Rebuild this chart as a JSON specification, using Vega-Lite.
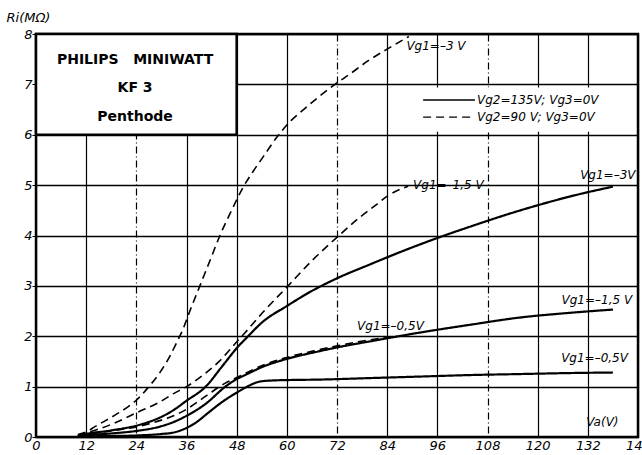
{
  "$schema": "https://vega.github.io/schema/vega-lite/v6.json",
  "width": 602,
  "height": 403,
  "autosize": "none",
  "padding": {"left": 36, "top": 34, "right": 4, "bottom": 18},
  "background": "white",
  "datasets": {
    "curves": [
      {"curve": "135 V / -0.5 V", "vg2": "135 V", "va": 10, "ri": 0.0},
      {"curve": "135 V / -0.5 V", "vg2": "135 V", "va": 12, "ri": 0.01},
      {"curve": "135 V / -0.5 V", "vg2": "135 V", "va": 18, "ri": 0.02},
      {"curve": "135 V / -0.5 V", "vg2": "135 V", "va": 24, "ri": 0.03},
      {"curve": "135 V / -0.5 V", "vg2": "135 V", "va": 30, "ri": 0.06},
      {"curve": "135 V / -0.5 V", "vg2": "135 V", "va": 33, "ri": 0.09},
      {"curve": "135 V / -0.5 V", "vg2": "135 V", "va": 36, "ri": 0.18},
      {"curve": "135 V / -0.5 V", "vg2": "135 V", "va": 38.5, "ri": 0.3},
      {"curve": "135 V / -0.5 V", "vg2": "135 V", "va": 40.6, "ri": 0.44},
      {"curve": "135 V / -0.5 V", "vg2": "135 V", "va": 43, "ri": 0.6},
      {"curve": "135 V / -0.5 V", "vg2": "135 V", "va": 45.3, "ri": 0.74},
      {"curve": "135 V / -0.5 V", "vg2": "135 V", "va": 48, "ri": 0.88},
      {"curve": "135 V / -0.5 V", "vg2": "135 V", "va": 50.5, "ri": 1.0},
      {"curve": "135 V / -0.5 V", "vg2": "135 V", "va": 53.5, "ri": 1.1},
      {"curve": "135 V / -0.5 V", "vg2": "135 V", "va": 56, "ri": 1.12},
      {"curve": "135 V / -0.5 V", "vg2": "135 V", "va": 60, "ri": 1.13},
      {"curve": "135 V / -0.5 V", "vg2": "135 V", "va": 68, "ri": 1.14},
      {"curve": "135 V / -0.5 V", "vg2": "135 V", "va": 80, "ri": 1.17},
      {"curve": "135 V / -0.5 V", "vg2": "135 V", "va": 92, "ri": 1.2},
      {"curve": "135 V / -0.5 V", "vg2": "135 V", "va": 104, "ri": 1.23},
      {"curve": "135 V / -0.5 V", "vg2": "135 V", "va": 116, "ri": 1.25},
      {"curve": "135 V / -0.5 V", "vg2": "135 V", "va": 128, "ri": 1.27},
      {"curve": "135 V / -0.5 V", "vg2": "135 V", "va": 138, "ri": 1.28},

      {"curve": "135 V / -1.5 V", "vg2": "135 V", "va": 10, "ri": 0.0},
      {"curve": "135 V / -1.5 V", "vg2": "135 V", "va": 12, "ri": 0.03},
      {"curve": "135 V / -1.5 V", "vg2": "135 V", "va": 18, "ri": 0.07},
      {"curve": "135 V / -1.5 V", "vg2": "135 V", "va": 24, "ri": 0.12},
      {"curve": "135 V / -1.5 V", "vg2": "135 V", "va": 29.8, "ri": 0.21},
      {"curve": "135 V / -1.5 V", "vg2": "135 V", "va": 33, "ri": 0.3},
      {"curve": "135 V / -1.5 V", "vg2": "135 V", "va": 36, "ri": 0.42},
      {"curve": "135 V / -1.5 V", "vg2": "135 V", "va": 40.6, "ri": 0.66},
      {"curve": "135 V / -1.5 V", "vg2": "135 V", "va": 45.3, "ri": 1.0},
      {"curve": "135 V / -1.5 V", "vg2": "135 V", "va": 48, "ri": 1.15},
      {"curve": "135 V / -1.5 V", "vg2": "135 V", "va": 50, "ri": 1.23},
      {"curve": "135 V / -1.5 V", "vg2": "135 V", "va": 54.4, "ri": 1.4},
      {"curve": "135 V / -1.5 V", "vg2": "135 V", "va": 60, "ri": 1.55},
      {"curve": "135 V / -1.5 V", "vg2": "135 V", "va": 67.6, "ri": 1.7},
      {"curve": "135 V / -1.5 V", "vg2": "135 V", "va": 72.7, "ri": 1.79},
      {"curve": "135 V / -1.5 V", "vg2": "135 V", "va": 80, "ri": 1.9},
      {"curve": "135 V / -1.5 V", "vg2": "135 V", "va": 91.6, "ri": 2.07},
      {"curve": "135 V / -1.5 V", "vg2": "135 V", "va": 104, "ri": 2.23},
      {"curve": "135 V / -1.5 V", "vg2": "135 V", "va": 115.6, "ri": 2.37},
      {"curve": "135 V / -1.5 V", "vg2": "135 V", "va": 127, "ri": 2.46},
      {"curve": "135 V / -1.5 V", "vg2": "135 V", "va": 138, "ri": 2.53},

      {"curve": "135 V / -3 V", "vg2": "135 V", "va": 10, "ri": 0.02},
      {"curve": "135 V / -3 V", "vg2": "135 V", "va": 12, "ri": 0.06},
      {"curve": "135 V / -3 V", "vg2": "135 V", "va": 18, "ri": 0.13},
      {"curve": "135 V / -3 V", "vg2": "135 V", "va": 25.1, "ri": 0.25},
      {"curve": "135 V / -3 V", "vg2": "135 V", "va": 30, "ri": 0.4},
      {"curve": "135 V / -3 V", "vg2": "135 V", "va": 33, "ri": 0.54},
      {"curve": "135 V / -3 V", "vg2": "135 V", "va": 36, "ri": 0.72},
      {"curve": "135 V / -3 V", "vg2": "135 V", "va": 40.6, "ri": 1.0},
      {"curve": "135 V / -3 V", "vg2": "135 V", "va": 44.5, "ri": 1.4},
      {"curve": "135 V / -3 V", "vg2": "135 V", "va": 48.4, "ri": 1.8},
      {"curve": "135 V / -3 V", "vg2": "135 V", "va": 50.5, "ri": 1.98},
      {"curve": "135 V / -3 V", "vg2": "135 V", "va": 54, "ri": 2.27},
      {"curve": "135 V / -3 V", "vg2": "135 V", "va": 60, "ri": 2.6},
      {"curve": "135 V / -3 V", "vg2": "135 V", "va": 66, "ri": 2.9},
      {"curve": "135 V / -3 V", "vg2": "135 V", "va": 72, "ri": 3.15},
      {"curve": "135 V / -3 V", "vg2": "135 V", "va": 80, "ri": 3.43},
      {"curve": "135 V / -3 V", "vg2": "135 V", "va": 88, "ri": 3.7},
      {"curve": "135 V / -3 V", "vg2": "135 V", "va": 96, "ri": 3.95},
      {"curve": "135 V / -3 V", "vg2": "135 V", "va": 104, "ri": 4.18},
      {"curve": "135 V / -3 V", "vg2": "135 V", "va": 112, "ri": 4.4},
      {"curve": "135 V / -3 V", "vg2": "135 V", "va": 120, "ri": 4.6},
      {"curve": "135 V / -3 V", "vg2": "135 V", "va": 128, "ri": 4.78},
      {"curve": "135 V / -3 V", "vg2": "135 V", "va": 138, "ri": 4.97},

      {"curve": "90 V / -0.5 V", "vg2": "90 V", "va": 10, "ri": 0.02},
      {"curve": "90 V / -0.5 V", "vg2": "90 V", "va": 12, "ri": 0.05},
      {"curve": "90 V / -0.5 V", "vg2": "90 V", "va": 18, "ri": 0.12},
      {"curve": "90 V / -0.5 V", "vg2": "90 V", "va": 24, "ri": 0.2},
      {"curve": "90 V / -0.5 V", "vg2": "90 V", "va": 29, "ri": 0.31},
      {"curve": "90 V / -0.5 V", "vg2": "90 V", "va": 32.9, "ri": 0.42},
      {"curve": "90 V / -0.5 V", "vg2": "90 V", "va": 36, "ri": 0.55},
      {"curve": "90 V / -0.5 V", "vg2": "90 V", "va": 40.6, "ri": 0.81},
      {"curve": "90 V / -0.5 V", "vg2": "90 V", "va": 45.3, "ri": 1.07},
      {"curve": "90 V / -0.5 V", "vg2": "90 V", "va": 48, "ri": 1.18},
      {"curve": "90 V / -0.5 V", "vg2": "90 V", "va": 50, "ri": 1.26},
      {"curve": "90 V / -0.5 V", "vg2": "90 V", "va": 54.4, "ri": 1.43},
      {"curve": "90 V / -0.5 V", "vg2": "90 V", "va": 60, "ri": 1.58},
      {"curve": "90 V / -0.5 V", "vg2": "90 V", "va": 67.6, "ri": 1.73},
      {"curve": "90 V / -0.5 V", "vg2": "90 V", "va": 72.7, "ri": 1.82},
      {"curve": "90 V / -0.5 V", "vg2": "90 V", "va": 80, "ri": 1.93},
      {"curve": "90 V / -0.5 V", "vg2": "90 V", "va": 86, "ri": 2.0},

      {"curve": "90 V / -1.5 V", "vg2": "90 V", "va": 10, "ri": 0.03},
      {"curve": "90 V / -1.5 V", "vg2": "90 V", "va": 12, "ri": 0.08},
      {"curve": "90 V / -1.5 V", "vg2": "90 V", "va": 18, "ri": 0.25},
      {"curve": "90 V / -1.5 V", "vg2": "90 V", "va": 24, "ri": 0.48},
      {"curve": "90 V / -1.5 V", "vg2": "90 V", "va": 29.7, "ri": 0.7},
      {"curve": "90 V / -1.5 V", "vg2": "90 V", "va": 32.9, "ri": 0.86},
      {"curve": "90 V / -1.5 V", "vg2": "90 V", "va": 36, "ri": 1.0},
      {"curve": "90 V / -1.5 V", "vg2": "90 V", "va": 40.6, "ri": 1.27},
      {"curve": "90 V / -1.5 V", "vg2": "90 V", "va": 43.8, "ri": 1.5},
      {"curve": "90 V / -1.5 V", "vg2": "90 V", "va": 47.6, "ri": 1.85},
      {"curve": "90 V / -1.5 V", "vg2": "90 V", "va": 50, "ri": 2.07},
      {"curve": "90 V / -1.5 V", "vg2": "90 V", "va": 54, "ri": 2.45},
      {"curve": "90 V / -1.5 V", "vg2": "90 V", "va": 60.3, "ri": 3.0},
      {"curve": "90 V / -1.5 V", "vg2": "90 V", "va": 66, "ri": 3.5},
      {"curve": "90 V / -1.5 V", "vg2": "90 V", "va": 72.2, "ri": 3.98},
      {"curve": "90 V / -1.5 V", "vg2": "90 V", "va": 77, "ri": 4.33},
      {"curve": "90 V / -1.5 V", "vg2": "90 V", "va": 81.2, "ri": 4.6},
      {"curve": "90 V / -1.5 V", "vg2": "90 V", "va": 84.2, "ri": 4.79},
      {"curve": "90 V / -1.5 V", "vg2": "90 V", "va": 89, "ri": 4.98},

      {"curve": "90 V / -3 V", "vg2": "90 V", "va": 10, "ri": 0.05},
      {"curve": "90 V / -3 V", "vg2": "90 V", "va": 12, "ri": 0.1},
      {"curve": "90 V / -3 V", "vg2": "90 V", "va": 14, "ri": 0.2},
      {"curve": "90 V / -3 V", "vg2": "90 V", "va": 18.8, "ri": 0.43},
      {"curve": "90 V / -3 V", "vg2": "90 V", "va": 22, "ri": 0.6},
      {"curve": "90 V / -3 V", "vg2": "90 V", "va": 24, "ri": 0.73},
      {"curve": "90 V / -3 V", "vg2": "90 V", "va": 26.7, "ri": 0.97},
      {"curve": "90 V / -3 V", "vg2": "90 V", "va": 29.8, "ri": 1.3},
      {"curve": "90 V / -3 V", "vg2": "90 V", "va": 32, "ri": 1.6},
      {"curve": "90 V / -3 V", "vg2": "90 V", "va": 33.5, "ri": 1.85},
      {"curve": "90 V / -3 V", "vg2": "90 V", "va": 35.2, "ri": 2.15},
      {"curve": "90 V / -3 V", "vg2": "90 V", "va": 36.8, "ri": 2.5},
      {"curve": "90 V / -3 V", "vg2": "90 V", "va": 39.2, "ri": 3.0},
      {"curve": "90 V / -3 V", "vg2": "90 V", "va": 41.6, "ri": 3.5},
      {"curve": "90 V / -3 V", "vg2": "90 V", "va": 44, "ri": 4.0},
      {"curve": "90 V / -3 V", "vg2": "90 V", "va": 46.8, "ri": 4.5},
      {"curve": "90 V / -3 V", "vg2": "90 V", "va": 49.5, "ri": 4.95},
      {"curve": "90 V / -3 V", "vg2": "90 V", "va": 52, "ri": 5.28},
      {"curve": "90 V / -3 V", "vg2": "90 V", "va": 54.5, "ri": 5.58},
      {"curve": "90 V / -3 V", "vg2": "90 V", "va": 57.6, "ri": 5.95},
      {"curve": "90 V / -3 V", "vg2": "90 V", "va": 61, "ri": 6.28},
      {"curve": "90 V / -3 V", "vg2": "90 V", "va": 64, "ri": 6.5},
      {"curve": "90 V / -3 V", "vg2": "90 V", "va": 67.6, "ri": 6.75},
      {"curve": "90 V / -3 V", "vg2": "90 V", "va": 71.5, "ri": 7.0},
      {"curve": "90 V / -3 V", "vg2": "90 V", "va": 75, "ri": 7.2},
      {"curve": "90 V / -3 V", "vg2": "90 V", "va": 79.5, "ri": 7.47},
      {"curve": "90 V / -3 V", "vg2": "90 V", "va": 84, "ri": 7.7},
      {"curve": "90 V / -3 V", "vg2": "90 V", "va": 89.2, "ri": 7.95}
    ]
  },
  "encoding": {
    "x": {
      "type": "quantitative",
      "scale": {"domain": [0, 144], "nice": false, "zero": false}
    },
    "y": {
      "type": "quantitative",
      "scale": {"domain": [0, 8], "nice": false}
    }
  },
  "layer": [
    {
      "data": {"values": [{"x": 0, "x2": 48, "y": 6, "y2": 8}]},
      "mark": {"type": "rect", "fill": "white", "stroke": "black", "strokeWidth": 2.5},
      "encoding": {
        "x": {"field": "x", "type": "quantitative",
          "axis": {
            "title": null,
            "values": [0, 6, 12, 18, 24, 30, 36, 42, 48, 54, 60, 66, 72, 78, 84, 90, 96, 102, 108, 114, 120, 126, 132, 138, 144],
            "labelExpr": "datum.value % 12 === 0 ? datum.label : ''",
            "grid": true,
            "gridColor": "black",
            "gridWidth": {"condition": {"test": "datum.value % 12 !== 0", "value": 0.8}, "value": 1.2},
            "gridDash": {"condition": [
              {"test": "datum.value % 12 !== 0", "value": [1, 5]},
              {"test": "indexof([24, 72, 108], datum.value) >= 0", "value": [7, 3, 1, 3]}
            ], "value": []},
            "ticks": false,
            "domain": false,
            "labelPadding": 2,
            "labelFont": "DejaVu Sans",
            "labelFontStyle": "italic",
            "labelFontSize": 13,
            "labelColor": "black",
            "labelBound": false,
            "labelFlush": false,
            "labelOverlap": false
          }
        },
        "x2": {"field": "x2"},
        "y": {"field": "y", "type": "quantitative",
          "axis": {
            "title": "Ri(MΩ)",
            "titleAngle": 0,
            "titleAlign": "left",
            "titleBaseline": "middle",
            "titleX": -30,
            "titleY": -17,
            "titleFont": "DejaVu Sans",
            "titleFontStyle": "italic",
            "titleFontWeight": "normal",
            "titleFontSize": 13,
            "titleColor": "black",
            "values": [0, 0.5, 1, 1.5, 2, 2.5, 3, 3.5, 4, 4.5, 5, 5.5, 6, 6.5, 7, 7.5, 8],
            "labelExpr": "datum.value % 1 === 0 ? datum.label : ''",
            "grid": true,
            "gridColor": "black",
            "gridWidth": {"condition": {"test": "datum.value % 1 !== 0", "value": 1}, "value": 1.4},
            "tickColor": "black",
            "tickSize": 4,
            "tickOpacity": {"condition": {"test": "datum.value % 1 !== 0", "value": 0}, "value": 1},
            "domain": false,
            "labelPadding": 0,
            "labelFont": "DejaVu Sans",
            "labelFontStyle": "italic",
            "labelFontSize": 13,
            "labelColor": "black",
            "labelBound": false,
            "labelFlush": false,
            "labelOverlap": false
          }
        },
        "y2": {"field": "y2"}
      }
    },
    {
      "data": {"values": [{"x": 90.8, "x2": 139.5, "y": 6.06, "y2": 6.94}]},
      "mark": {"type": "rect", "fill": "white"},
      "encoding": {
        "x": {"field": "x", "type": "quantitative"},
        "x2": {"field": "x2"},
        "y": {"field": "y", "type": "quantitative"},
        "y2": {"field": "y2"}
      }
    },
    {
      "data": {"name": "curves"},
      "mark": {"type": "line", "interpolate": "monotone", "color": "black", "clip": true},
      "encoding": {
        "x": {"field": "va", "type": "quantitative"},
        "y": {"field": "ri", "type": "quantitative"},
        "detail": {"field": "curve"},
        "strokeDash": {"field": "vg2", "type": "nominal",
          "scale": {"domain": ["135 V", "90 V"], "range": [[1, 0], [8, 5]]}, "legend": null},
        "strokeWidth": {"field": "vg2", "type": "nominal",
          "scale": {"domain": ["135 V", "90 V"], "range": [2.2, 1.6]}, "legend": null}
      }
    },
    {
      "data": {"values": [
        {"vg2": "135 V", "x": 92.6, "x2": 105, "y": 6.69},
        {"vg2": "90 V", "x": 92.6, "x2": 105, "y": 6.35}
      ]},
      "mark": {"type": "rule", "color": "black"},
      "encoding": {
        "x": {"field": "x", "type": "quantitative"},
        "x2": {"field": "x2"},
        "y": {"field": "y", "type": "quantitative"},
        "strokeDash": {"field": "vg2", "type": "nominal",
          "scale": {"domain": ["135 V", "90 V"], "range": [[1, 0], [4, 3]]}, "legend": null},
        "strokeWidth": {"value": 1.4}
      }
    },
    {
      "data": {"values": [
        {"x": 23.7, "y": 7.48, "label": "PHILIPS\u00a0\u00a0\u00a0MINIWATT"},
        {"x": 23.7, "y": 6.92, "label": "KF 3"},
        {"x": 23.7, "y": 6.36, "label": "Penthode"}
      ]},
      "mark": {"type": "text", "font": "DejaVu Sans", "fontWeight": "bold", "fontSize": 14, "align": "center", "baseline": "middle", "color": "black"},
      "encoding": {
        "x": {"field": "x", "type": "quantitative"},
        "y": {"field": "y", "type": "quantitative"},
        "text": {"field": "label"}
      }
    },
    {
      "data": {"values": [
        {"x": 88.6, "y": 7.76, "label": "Vg1=–3 V"},
        {"x": 90.2, "y": 5.0, "label": "Vg1=–1,5 V"},
        {"x": 76.8, "y": 2.2, "label": "Vg1=–0,5V"},
        {"x": 105.5, "y": 6.69, "label": "Vg2=135V; Vg3=0V"},
        {"x": 105.5, "y": 6.35, "label": "Vg2=90 V; Vg3=0V"},
        {"x": 131.6, "y": 0.3, "label": "Va(V)"}
      ]},
      "mark": {"type": "text", "font": "DejaVu Sans", "fontStyle": "italic", "fontSize": 12, "align": "left", "baseline": "middle", "color": "black"},
      "encoding": {
        "x": {"field": "x", "type": "quantitative"},
        "y": {"field": "y", "type": "quantitative"},
        "text": {"field": "label"}
      }
    },
    {
      "data": {"values": [
        {"x": 143.4, "y": 5.2, "label": "Vg1=–3V"},
        {"x": 142.6, "y": 2.72, "label": "Vg1=–1,5 V"},
        {"x": 141.6, "y": 1.57, "label": "Vg1=–0,5V"}
      ]},
      "mark": {"type": "text", "font": "DejaVu Sans", "fontStyle": "italic", "fontSize": 12, "align": "right", "baseline": "middle", "color": "black"},
      "encoding": {
        "x": {"field": "x", "type": "quantitative"},
        "y": {"field": "y", "type": "quantitative"},
        "text": {"field": "label"}
      }
    }
  ],
  "config": {
    "view": {"stroke": "black", "strokeWidth": 2.5}
  }
}
